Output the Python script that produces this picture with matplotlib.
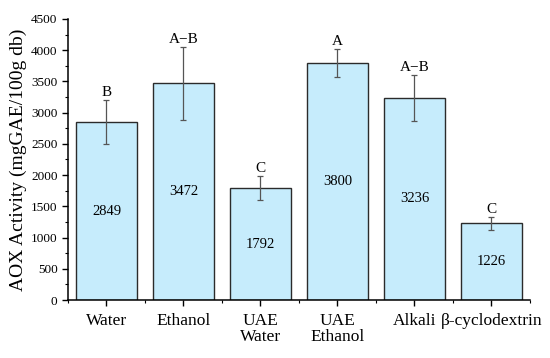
import matplotlib
matplotlib.use('Agg')
import matplotlib.pyplot as plt
from matplotlib.ticker import MultipleLocator

# values
categories = ['Water', 'Ethanol', 'UAE\nWater', 'UAE\nEthanol', 'Alkali', 'β-cyclodextrin']
aox_means = [2849, 3472, 1792, 3800, 3236, 1226]
aox_errors = [352, 585, 195, 225, 365, 105]
groups = ['B', 'A−B', 'C', 'A', 'A−B', 'C']

plt.rcParams['font.family'] = ['Liberation Serif', 'DejaVu Serif']

fig = plt.figure(figsize=(5.5, 3.58), dpi=100)
ax = fig.add_axes([0.1236, 0.162, 0.84, 0.785])

x = range(len(categories))
ax.bar(x, aox_means, width=0.8, color='#c6ecfc', edgecolor='#2b2b2b', linewidth=1.0,
       yerr=aox_errors, error_kw=dict(ecolor='#555555', elinewidth=0.9, capsize=2.5, capthick=0.9))

for i, (m, e, g) in enumerate(zip(aox_means, aox_errors, groups)):
    ax.text(i, m / 2, str(m), ha='center', va='center', fontsize=10.5)
    ax.annotate(g, (i, m + e), xytext=(0, 0.5), textcoords='offset points',
                ha='center', va='bottom', fontsize=11)

ax.set_xlim(-0.5, 5.5)
ax.set_ylim(0, 4500)
ax.set_xticks(list(x))
ax.set_xticklabels(categories, fontsize=12.5, linespacing=1.0)
ax.xaxis.set_minor_locator(MultipleLocator(1, offset=0.5))
ax.yaxis.set_major_locator(MultipleLocator(500))
ax.yaxis.set_minor_locator(MultipleLocator(250))
ax.tick_params(axis='y', labelsize=9.5, direction='out', length=4, width=1)
ax.tick_params(axis='x', direction='out', length=4, width=1, pad=5)
ax.tick_params(which='minor', direction='out', length=2.5, width=0.8)
ax.set_ylabel('AOX Activity (mgGAE/100g db)', fontsize=14, labelpad=3)

for s in ['top', 'right']:
    ax.spines[s].set_visible(False)
for s in ['left', 'bottom']:
    ax.spines[s].set_linewidth(1.1)

fig.savefig('out.png', dpi=100)
